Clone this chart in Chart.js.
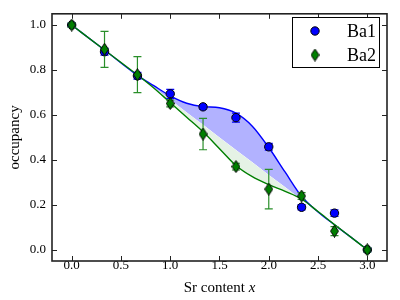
<!DOCTYPE html>
<html>
<head>
<meta charset="utf-8">
<script src="https://cdn.jsdelivr.net/npm/chart.js@4.4.1/dist/chart.umd.min.js"></script>
<style>
  html, body { margin: 0; padding: 0; background: #fff; }
  #wrap { width: 400px; height: 300px; }
</style>
</head>
<body>
<div id="wrap"><canvas id="chart" width="400" height="300"></canvas></div>
<script>
// measured points
const sites = ["Ba1", "Ba2"];
const xVals = [0, 0.333, 0.667, 1.0, 1.333, 1.667, 2.0, 2.333, 2.667, 3.0];
const ba1 = [1.0, 0.881, 0.774, 0.694, 0.636, 0.588, 0.458, 0.189, 0.163, 0.0];
const ba1Err = [0.01, 0.015, 0.015, 0.02, 0.01, 0.02, 0.015, 0.012, 0.015, 0.01];
const ba2 = [1.0, 0.892, 0.779, 0.651, 0.515, 0.37, 0.27, 0.239, 0.083, 0.0];
const ba2Err = [0.01, 0.08, 0.08, 0.015, 0.07, 0.015, 0.088, 0.015, 0.02, 0.01];

// smoothed curves
const curveX = [0, 0.333, 0.667, 0.833, 1.0, 1.167, 1.333, 1.5, 1.667, 1.833, 2.0, 2.167, 2.333, 2.5, 2.667, 2.833, 3.0];
const idealCurve = [1, 0.889, 0.778, 0.722, 0.667, 0.611, 0.556, 0.5, 0.444, 0.389, 0.333, 0.278, 0.222, 0.167, 0.111, 0.056, 0];
const ba1Curve = [1, 0.889, 0.776, 0.73, 0.685, 0.652, 0.637, 0.632, 0.608, 0.55, 0.455, 0.345, 0.238, 0.168, 0.111, 0.056, 0];
const ba2Curve = [1, 0.889, 0.778, 0.72, 0.655, 0.59, 0.525, 0.45, 0.375, 0.325, 0.29, 0.26, 0.226, 0.17, 0.112, 0.056, 0];

const xTicks = [0, 0.5, 1.0, 1.5, 2.0, 2.5, 3.0];
const yTicks = [0, 0.2, 0.4, 0.6, 0.8, 1.0];

const BLUE = "#0000ff";
const GREEN = "#007f00";
const SERIF = "'Liberation Serif', 'DejaVu Serif', serif";

function pts(xs, ys) {
  return xs.map((x, i) => ({ x: x, y: ys[i] }));
}

// thin diamond marker like matplotlib 'd'
function thinDiamond(w, h, fill) {
  const c = document.createElement("canvas");
  c.width = w;
  c.height = h;
  const g = c.getContext("2d");
  g.beginPath();
  g.moveTo(w / 2, 0.5);
  g.lineTo(w - 0.5, h / 2);
  g.lineTo(w / 2, h - 0.5);
  g.lineTo(0.5, h / 2);
  g.closePath();
  g.fillStyle = fill;
  g.fill();
  g.strokeStyle = "#000";
  g.lineWidth = 1;
  g.stroke();
  return c;
}
const diamond = thinDiamond(9, 13, GREEN);

function drawErrors(chart, ys, errs, color) {
  const ctx = chart.ctx;
  const xs = chart.scales.x, ysc = chart.scales.y;
  ctx.save();
  ctx.strokeStyle = color;
  ctx.lineWidth = 1.2;
  xVals.forEach((x, i) => {
    const px = xs.getPixelForValue(x);
    const top = ysc.getPixelForValue(ys[i] + errs[i]);
    const bot = ysc.getPixelForValue(ys[i] - errs[i]);
    ctx.beginPath();
    ctx.moveTo(px, top); ctx.lineTo(px, bot);
    ctx.moveTo(px - 4, top); ctx.lineTo(px + 4, top);
    ctx.moveTo(px - 4, bot); ctx.lineTo(px + 4, bot);
    ctx.stroke();
  });
  ctx.restore();
}

const errorBars = {
  id: "errorBars",
  beforeDatasetDraw(chart, args) {
    if (args.index === 1) drawErrors(chart, ba1, ba1Err, BLUE);
    if (args.index === 0) drawErrors(chart, ba2, ba2Err, "#2a8f2a");
  }
};

const frame = {
  id: "frame",
  afterDatasetsDraw(chart) {
    const ctx = chart.ctx;
    const a = chart.chartArea;
    const xs = chart.scales.x, ys = chart.scales.y;
    ctx.save();
    ctx.strokeStyle = "#222";
    ctx.lineWidth = 1;
    ctx.beginPath();
    xTicks.forEach(v => {
      const px = Math.round(xs.getPixelForValue(v)) + 0.5;
      ctx.moveTo(px, a.bottom); ctx.lineTo(px, a.bottom - 5);
      ctx.moveTo(px, a.top); ctx.lineTo(px, a.top + 5);
    });
    yTicks.forEach(v => {
      const py = Math.round(ys.getPixelForValue(v)) + 0.5;
      ctx.moveTo(a.left, py); ctx.lineTo(a.left + 5, py);
      ctx.moveTo(a.right, py); ctx.lineTo(a.right - 5, py);
    });
    ctx.stroke();
    ctx.lineWidth = 1.6;
    ctx.strokeStyle = "#222";
    ctx.strokeRect(a.left, a.top, a.right - a.left, a.bottom - a.top);
    ctx.restore();
  },
  afterDraw(chart) {
    const ctx = chart.ctx;
    const a = chart.chartArea;
    ctx.save();
    ctx.fillStyle = "#000";
    // x label with italic x
    ctx.font = "15px " + SERIF;
    const part1 = "Sr content ";
    const w1 = ctx.measureText(part1).width;
    ctx.font = "italic 15px " + SERIF;
    const w2 = ctx.measureText("x").width;
    let sx = (a.left + a.right) / 2 - (w1 + w2) / 2;
    ctx.textBaseline = "alphabetic";
    ctx.font = "15px " + SERIF;
    ctx.fillText(part1, sx, 292);
    ctx.font = "italic 15px " + SERIF;
    ctx.fillText("x", sx + w1, 292);
    // y label
    ctx.font = "15px " + SERIF;
    ctx.translate(19, (a.top + a.bottom) / 2);
    ctx.rotate(-Math.PI / 2);
    ctx.textAlign = "center";
    ctx.fillText("occupancy", 0, 0);
    ctx.restore();

    // legend box
    ctx.save();
    const bx = 292, by = 17, bw = 87, bh = 50;
    ctx.fillStyle = "#fff";
    ctx.fillRect(bx, by, bw, bh);
    ctx.strokeStyle = "#000";
    ctx.lineWidth = 1;
    ctx.strokeRect(bx + 0.5, by + 0.5, bw, bh);
    ctx.fillStyle = BLUE;
    ctx.strokeStyle = "#000";
    ctx.beginPath();
    ctx.arc(315, 31, 4.2, 0, Math.PI * 2);
    ctx.fill();
    ctx.stroke();
    ctx.drawImage(diamond, 315 - 4.5, 55 - 6.5);
    ctx.fillStyle = "#000";
    ctx.font = "18px " + SERIF;
    ctx.textBaseline = "middle";
    ctx.fillText(sites[0], 347, 32);
    ctx.fillText(sites[1], 347, 56);
    ctx.restore();
  }
};

new Chart(document.getElementById("chart"), {
  type: "line",
  data: {
    datasets: [
      {
        label: sites[1],
        data: pts(xVals, ba2),
        showLine: false,
        pointStyle: diamond,
        pointRadius: 6,
        pointHoverRadius: 6
      },
      {
        label: sites[0],
        data: pts(xVals, ba1),
        showLine: false,
        pointStyle: "circle",
        pointRadius: 4.2,
        pointBackgroundColor: BLUE,
        pointBorderColor: "#000",
        pointBorderWidth: 1
      },
      {
        label: "ba2 curve",
        data: pts(curveX, ba2Curve),
        borderColor: GREEN,
        borderWidth: 1.4,
        pointRadius: 0,
        cubicInterpolationMode: "monotone",
        fill: { target: 4, above: "rgba(0,0,0,0)", below: "rgba(0,128,0,0.1)" }
      },
      {
        label: "ba1 curve",
        data: pts(curveX, ba1Curve),
        borderColor: BLUE,
        borderWidth: 1.4,
        pointRadius: 0,
        cubicInterpolationMode: "monotone",
        fill: { target: 4, above: "rgba(0,0,255,0.3)", below: "rgba(0,0,0,0)" }
      },
      {
        label: "ideal",
        data: pts(curveX, idealCurve),
        borderWidth: 0,
        borderColor: "rgba(0,0,0,0)",
        pointRadius: 0,
        fill: false
      }
    ]
  },
  options: {
    responsive: false,
    animation: false,
    events: [],
    layout: { padding: { top: 8, right: 13, left: 0, bottom: 0 } },
    plugins: { legend: { display: false }, tooltip: { enabled: false } },
    scales: {
      x: {
        type: "linear",
        min: -0.2,
        max: 3.2,
        grid: { display: false, drawTicks: false },
        border: { display: false },
        afterBuildTicks: s => { s.ticks = xTicks.map(v => ({ value: v })); },
        afterFit: s => { s.height = 39; },
        ticks: {
          padding: -3,
          maxRotation: 0,
          color: "#000",
          font: { family: SERIF, size: 13 },
          callback: v => v.toFixed(1)
        }
      },
      y: {
        type: "linear",
        min: -0.05,
        max: 1.05,
        grid: { display: false, drawTicks: false },
        border: { display: false },
        afterBuildTicks: s => { s.ticks = yTicks.map(v => ({ value: v })); },
        afterFit: s => { s.width = 52; },
        ticks: {
          padding: 6,
          color: "#000",
          font: { family: SERIF, size: 13 },
          callback: v => v.toFixed(1)
        }
      }
    }
  },
  plugins: [errorBars, frame]
});
</script>
</body>
</html>
